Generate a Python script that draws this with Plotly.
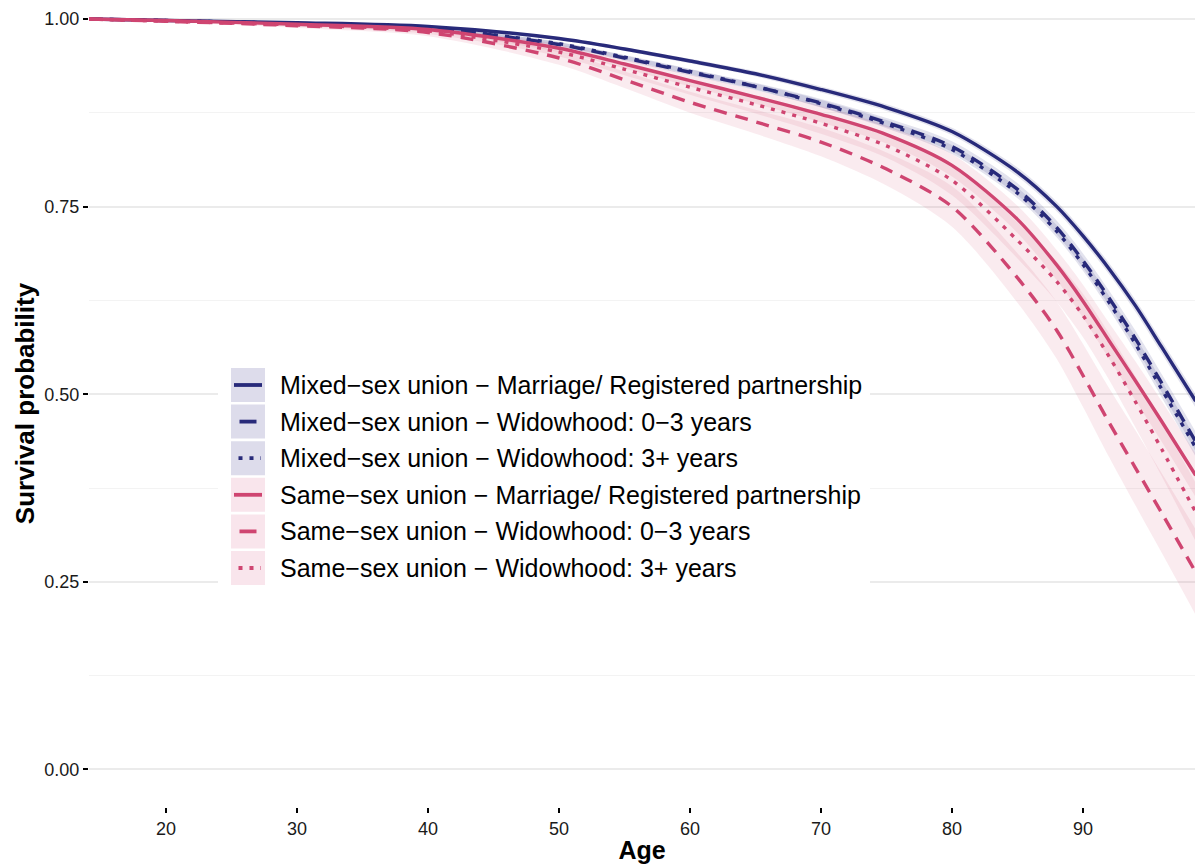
import plotly.graph_objects as go

# ---------------- data ----------------
ages = [14, 20, 30, 40, 50, 55, 60, 65, 70, 75, 80, 85, 88, 90, 92, 94, 96, 98.6]

mixed_marriage = [1.000, 0.998, 0.995, 0.990, 0.974, 0.960, 0.944, 0.927, 0.906, 0.882, 0.850, 0.796, 0.750, 0.711, 0.667, 0.618, 0.563, 0.491]
mixed_widow03  = [1.000, 0.998, 0.994, 0.988, 0.966, 0.948, 0.929, 0.910, 0.888, 0.862, 0.830, 0.773, 0.722, 0.678, 0.628, 0.574, 0.515, 0.437]
mixed_widow3p  = [1.000, 0.998, 0.994, 0.988, 0.967, 0.949, 0.930, 0.910, 0.887, 0.860, 0.826, 0.768, 0.717, 0.673, 0.622, 0.567, 0.507, 0.429]
same_marriage  = [1.000, 0.998, 0.993, 0.986, 0.961, 0.940, 0.918, 0.896, 0.873, 0.846, 0.805, 0.733, 0.672, 0.624, 0.571, 0.518, 0.464, 0.392]
same_widow3p   = [1.000, 0.997, 0.992, 0.984, 0.956, 0.933, 0.909, 0.886, 0.861, 0.831, 0.785, 0.705, 0.650, 0.605, 0.550, 0.490, 0.427, 0.343]
same_widow03   = [1.000, 0.997, 0.991, 0.982, 0.948, 0.919, 0.889, 0.863, 0.836, 0.800, 0.750, 0.655, 0.585, 0.525, 0.462, 0.402, 0.342, 0.263]

# confidence band half-widths
hw_mixed_marriage = [0, 0.0005, 0.001, 0.0015, 0.002, 0.0025, 0.003, 0.0035, 0.004, 0.0045, 0.005, 0.006, 0.0065, 0.007, 0.0075, 0.008, 0.0085, 0.009]
hw_mixed_widow03  = [0, 0.001, 0.0015, 0.002, 0.003, 0.0035, 0.004, 0.005, 0.0055, 0.006, 0.007, 0.008, 0.009, 0.0095, 0.010, 0.011, 0.012, 0.013]
hw_mixed_widow3p  = [0, 0.001, 0.0015, 0.002, 0.0025, 0.003, 0.0035, 0.004, 0.005, 0.0055, 0.006, 0.007, 0.008, 0.0085, 0.009, 0.010, 0.011, 0.012]
hw_same_marriage  = [0, 0.001, 0.002, 0.003, 0.005, 0.006, 0.008, 0.009, 0.011, 0.012, 0.015, 0.018, 0.020, 0.022, 0.024, 0.026, 0.027, 0.029]
hw_same_widow3p   = [0, 0.001, 0.002, 0.004, 0.006, 0.008, 0.010, 0.012, 0.014, 0.016, 0.020, 0.024, 0.027, 0.029, 0.031, 0.034, 0.036, 0.039]
hw_same_widow03   = [0, 0.001, 0.003, 0.005, 0.009, 0.011, 0.014, 0.016, 0.019, 0.022, 0.027, 0.033, 0.038, 0.042, 0.046, 0.050, 0.053, 0.057]

labels = [
    "Mixed\u2212sex union \u2212 Marriage/ Registered partnership",
    "Mixed\u2212sex union \u2212 Widowhood: 0\u22123 years",
    "Mixed\u2212sex union \u2212 Widowhood: 3+ years",
    "Same\u2212sex union \u2212 Marriage/ Registered partnership",
    "Same\u2212sex union \u2212 Widowhood: 0\u22123 years",
    "Same\u2212sex union \u2212 Widowhood: 3+ years",
]
y_ticks = [0, 0.25, 0.5, 0.75, 1.0]
y_ticklabels = ["0.00", "0.25", "0.50", "0.75", "1.00"]
x_ticks = [20, 30, 40, 50, 60, 70, 80, 90]

# ---------------- styling ----------------
NAVY = "#282A7A"
PINK = "#CF4571"
NAVY_FILL = "rgba(40,42,122,0.13)"
PINK_FILL = "rgba(207,69,113,0.11)"
NAVY_KEY = "#DDDCEB"
PINK_KEY = "#F9E5EC"
DASH = "13px,9px"
DOT = "4px,7px"
FONT = "Liberation Sans, Arial, sans-serif"
SMOOTH = 0.85

series = [
    (mixed_marriage, hw_mixed_marriage, NAVY, NAVY_FILL, "solid"),
    (mixed_widow03, hw_mixed_widow03, NAVY, NAVY_FILL, DASH),
    (mixed_widow3p, hw_mixed_widow3p, NAVY, NAVY_FILL, DOT),
    (same_marriage, hw_same_marriage, PINK, PINK_FILL, "solid"),
    (same_widow03, hw_same_widow03, PINK, PINK_FILL, DASH),
    (same_widow3p, hw_same_widow3p, PINK, PINK_FILL, DOT),
]

fig = go.Figure()

# ribbons
for vals, hw, col, fcol, dash in series:
    lo = [v - h for v, h in zip(vals, hw)]
    hi = [v + h for v, h in zip(vals, hw)]
    fig.add_trace(go.Scatter(x=ages, y=lo, mode="lines", line=dict(width=0, shape="spline", smoothing=SMOOTH),
                             showlegend=False, hoverinfo="skip"))
    fig.add_trace(go.Scatter(x=ages, y=hi, mode="lines", line=dict(width=0, shape="spline", smoothing=SMOOTH),
                             fill="tonexty", fillcolor=fcol, showlegend=False, hoverinfo="skip"))

# lines
for (vals, hw, col, fcol, dash), lab in zip(series, labels):
    fig.add_trace(go.Scatter(x=ages, y=vals, mode="lines", name=lab,
                             line=dict(color=col, width=3.4, dash=dash, shape="spline", smoothing=SMOOTH),
                             showlegend=False))

# ---------------- manual legend (ggplot style keys) ----------------
W, H = 1195, 868
ML, MR, MT, MB = 89, 0, 0, 61
PW, PH = W - ML - MR, H - MT - MB


def px(xp):
    return (xp - ML) / PW


def py(yp):
    return (H - MB - yp) / PH


shapes = []
annotations = []
shapes.append(dict(type="rect", xref="paper", yref="paper", x0=px(218), x1=px(870), y0=py(590), y1=py(363),
                   fillcolor="white", line=dict(width=0), layer="above"))
row0, step = 385, 36.6
for i, ((vals, hw, col, fcol, dash), lab) in enumerate(zip(series, labels)):
    cy = row0 + i * step
    key = NAVY_KEY if i < 3 else PINK_KEY
    shapes.append(dict(type="rect", xref="paper", yref="paper", x0=px(231), x1=px(265),
                       y0=py(cy + 17), y1=py(cy - 17), fillcolor=key, line=dict(width=0), layer="above"))
    if dash == "solid":
        x0, x1, d = 234, 262, "solid"
    elif dash == DASH:
        x0, x1, d = 239.5, 256.5, "solid"
    else:
        x0, x1, d = 238.5, 261, DOT
    shapes.append(dict(type="line", xref="paper", yref="paper", x0=px(x0), x1=px(x1), y0=py(cy), y1=py(cy),
                       line=dict(color=col, width=3.8, dash=d), layer="above"))
    annotations.append(dict(xref="paper", yref="paper", x=px(278), y=py(cy), text=lab, showarrow=False,
                            xanchor="left", yanchor="middle", font=dict(family=FONT, size=25, color="black")))

fig.update_layout(
    width=W, height=H,
    margin=dict(l=ML, r=MR, t=MT, b=MB, pad=0),
    plot_bgcolor="white", paper_bgcolor="white",
    shapes=shapes, annotations=annotations,
    showlegend=False,
    font=dict(family=FONT),
)
fig.update_xaxes(
    range=[14.12, 98.55], tickvals=x_ticks, showgrid=False, zeroline=False, showline=False,
    ticks="outside", ticklen=5, tickwidth=2, tickcolor="black",
    tickfont=dict(family=FONT, size=18, color="#1a1a1a"),
    title=dict(text="<b>Age</b>", font=dict(family=FONT, size=25, color="black"), standoff=3),
    automargin=False,
)
fig.update_yaxes(
    range=[-0.05, 1.0253], tickvals=y_ticks, ticktext=y_ticklabels,
    showgrid=True, gridcolor="#EBEBEB", gridwidth=2, zeroline=False, showline=False,
    minor=dict(tick0=0.125, dtick=0.25, showgrid=True, gridcolor="#F3F3F3", gridwidth=1),
    ticks="outside", ticklen=5, tickwidth=2, tickcolor="black",
    tickfont=dict(family=FONT, size=18, color="#1a1a1a"),
    title=dict(text="<b>Survival probability</b>", font=dict(family=FONT, size=26, color="black"), standoff=2),
    automargin=False,
)

fig.write_html("out.html", config={"displayModeBar": False},
               post_script="document.body.style.margin='0px';")
